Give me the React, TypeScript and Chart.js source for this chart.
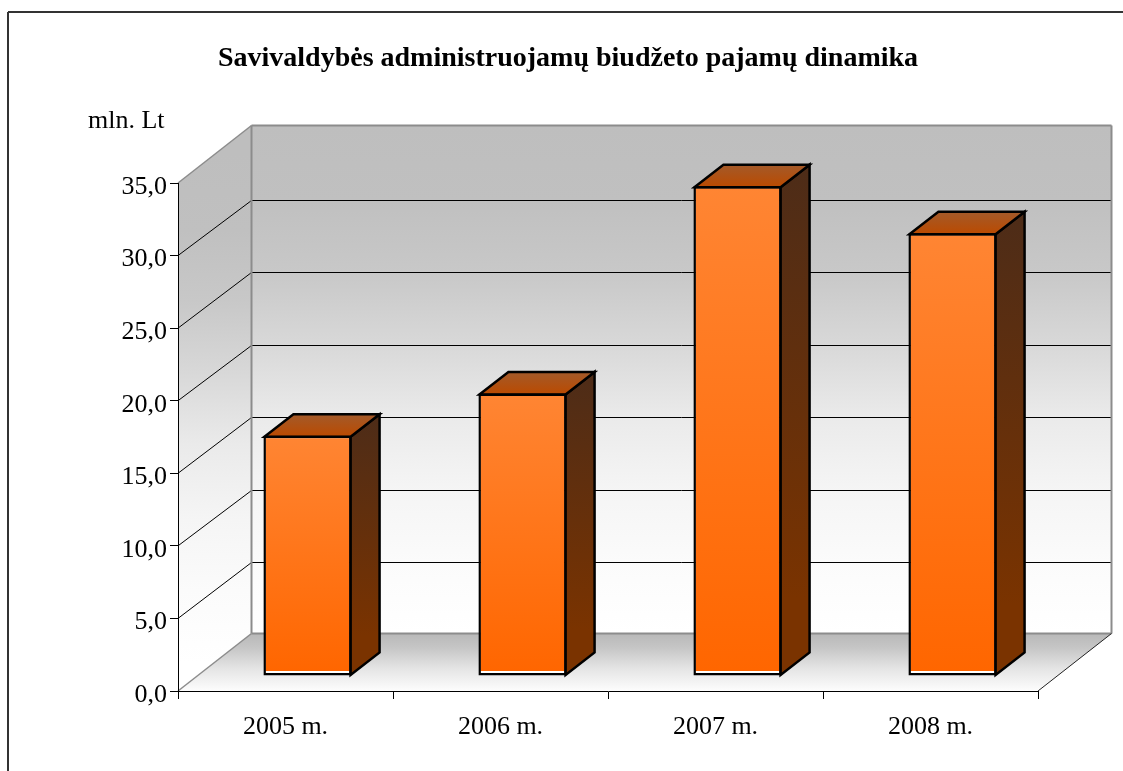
import React, { useEffect, useRef } from "react";
import { Chart, registerables } from "chart.js";

Chart.register(...registerables);

const categories = ["2005 m.", "2006 m.", "2007 m.", "2008 m."];
const revenue = [16.55, 19.47, 33.75, 30.5];
const titleText = "Savivaldybės administruojamų biudžeto pajamų dinamika";
const unitText = "mln. Lt";
const gridValues = [5, 10, 15, 20, 25, 30];

const FONT = '"Liberation Serif", "Times New Roman", serif';
const DEPTH_X = 73.5;
const DEPTH_Y = 57.5;
const GRID_DEPTH_Y = 55.5;
const BAR_SHIFT_X = 22;
const BAR_SHIFT_Y = 15;
const BAR_DEPTH_X = 29;
const BAR_DEPTH_Y = 22.5;
const BAR_LINE = 2.5;
const Y_LABEL_NUDGE = 4;

const poly = (ctx: CanvasRenderingContext2D, pts: number[][]) => {
  ctx.beginPath();
  pts.forEach(([x, y], i) => (i ? ctx.lineTo(x, y) : ctx.moveTo(x, y)));
  ctx.closePath();
};
const seg = (ctx: CanvasRenderingContext2D, x1: number, y1: number, x2: number, y2: number, color: string, w: number) => {
  ctx.strokeStyle = color;
  ctx.lineWidth = w;
  ctx.beginPath();
  ctx.moveTo(x1, y1);
  ctx.lineTo(x2, y2);
  ctx.stroke();
};

const scene = {
  id: "scene",
  afterUpdate(chart: any) {
    const s = chart.scales.y;
    if (s.__nudged) return;
    s.__nudged = true;
    const draw = s.drawLabels.bind(s);
    s.drawLabels = (area: any) => {
      s.ctx.save();
      s.ctx.translate(0, Y_LABEL_NUDGE);
      draw(area);
      s.ctx.restore();
    };
  },
  beforeDraw(chart: any) {
    const { ctx, chartArea: a, scales } = chart;
    const y = scales.y;
    const y0 = y.getPixelForValue(0);
    const yTop = y.getPixelForValue(35);
    const L = a.left;
    const R = a.right;
    const dx = DEPTH_X;
    const dy = DEPTH_Y;
    ctx.save();

    // page frame
    ctx.fillStyle = "#fff";
    ctx.fillRect(0, 0, chart.width, chart.height);
    seg(ctx, 8, 771, 8, 12, "#333", 2);
    seg(ctx, 8, 12, 1123, 12, "#333", 2);

    // walls
    const shades: [number, string][] = [
      [0, "#bebebe"],
      [0.15, "#c0c0c0"],
      [0.29, "#c8c8c8"],
      [0.43, "#d8d8d8"],
      [0.57, "#eaeaea"],
      [0.72, "#f5f5f5"],
      [0.86, "#fbfbfb"],
      [1, "#ffffff"],
    ];
    const wall = ctx.createLinearGradient(0, yTop - dy, 0, y0 - dy);
    shades.forEach(([s, c]) => wall.addColorStop(s, c));
    ctx.fillStyle = wall;
    ctx.fillRect(L + dx, yTop - dy, R - L, y0 - yTop);
    const side = ctx.createLinearGradient(0, yTop - dy / 2, 0, y0 - dy / 2);
    shades.forEach(([s, c]) => side.addColorStop(s, c));
    ctx.fillStyle = side;
    poly(ctx, [[L, yTop], [L + dx, yTop - dy], [L + dx, y0 - dy], [L, y0]]);
    ctx.fill();

    // floor
    const floor = ctx.createLinearGradient(0, y0 - dy, 0, y0);
    floor.addColorStop(0, "#b8b8b8");
    floor.addColorStop(0.25, "#c6c6c6");
    floor.addColorStop(0.6, "#e4e4e4");
    floor.addColorStop(1, "#fdfdfd");
    ctx.fillStyle = floor;
    poly(ctx, [[L, y0], [L + dx, y0 - dy], [R + dx, y0 - dy], [R, y0]]);
    ctx.fill();

    // grid lines through the scale
    gridValues.forEach((v) => {
      const py = y.getPixelForValue(v);
      const back = Math.floor(py - GRID_DEPTH_Y) + 0.5;
      seg(ctx, L + dx, back, R + dx, back, "#000", 1);
      seg(ctx, L, py, L + dx, back, "#000", 1);
    });

    // wall edges
    const edge = "#8c8c8c";
    seg(ctx, L, yTop, L + dx, yTop - dy, edge, 1.5);
    seg(ctx, L + dx, yTop - dy, R + dx, yTop - dy, edge, 2);
    seg(ctx, L + dx, yTop - dy, L + dx, y0 - dy, edge, 2);
    seg(ctx, R + dx, yTop - dy, R + dx, y0 - dy, edge, 2);
    seg(ctx, L + dx, y0 - dy, R + dx, y0 - dy, edge, 2);
    seg(ctx, L, y0, L + dx, y0 - dy, edge, 1.5);
    seg(ctx, R, y0, R + dx, y0 - dy, "#222", 1);

    // unit label
    ctx.fillStyle = "#000";
    ctx.font = `26px ${FONT}`;
    ctx.textAlign = "left";
    ctx.textBaseline = "middle";
    ctx.fillText(unitText, 88, 121);
    ctx.restore();
  },
  beforeDatasetsDraw(chart: any) {
    const { ctx } = chart;
    ctx.save();
    ctx.translate(BAR_SHIFT_X, -BAR_SHIFT_Y);
    const y0 = chart.scales.y.getPixelForValue(0);
    chart.getDatasetMeta(0).data.forEach((el: any) => {
      const w = el.width;
      const l = el.x - w / 2 + 1;
      const r = el.x + w / 2 - 1;
      const t = el.y + 1;
      const b = y0 - 1;
      const sx = BAR_DEPTH_X;
      const sy = BAR_DEPTH_Y;
      const sg = ctx.createLinearGradient(0, t - sy, 0, b);
      sg.addColorStop(0, "#4d2c18");
      sg.addColorStop(0.85, "#7a3300");
      sg.addColorStop(1, "#7a3300");
      ctx.fillStyle = sg;
      poly(ctx, [[r, t], [r + sx, t - sy], [r + sx, b - sy], [r, b]]);
      ctx.fill();
      ctx.strokeStyle = "#000";
      ctx.lineWidth = BAR_LINE;
      ctx.lineJoin = "miter";
      ctx.stroke();
      const tg = ctx.createLinearGradient(0, t - sy, 0, t);
      tg.addColorStop(0, "#a35a2a");
      tg.addColorStop(1, "#bb4a00");
      ctx.fillStyle = tg;
      poly(ctx, [[l, t], [l + sx, t - sy], [r + sx, t - sy], [r, t]]);
      ctx.fill();
      ctx.stroke();
    });
  },
  afterDatasetsDraw(chart: any) {
    chart.ctx.restore();
  },
};

const frontFill = (c: any) => {
  const { chart, raw } = c;
  const y = chart.scales.y;
  if (raw === undefined || !y) return "#ff7a22";
  const top = y.getPixelForValue(raw);
  const bottom = y.getPixelForValue(0);
  if (!Number.isFinite(top) || !Number.isFinite(bottom) || bottom <= top) return "#ff7a22";
  const g = chart.ctx.createLinearGradient(0, top, 0, bottom);
  const cut = 1 - 4.5 / (bottom - top);
  g.addColorStop(0, "#ff8533");
  g.addColorStop(cut, "#ff6600");
  g.addColorStop(cut, "#ffffff");
  g.addColorStop(1, "#ffffff");
  return g;
};

export default function App() {
  const ref = useRef<HTMLCanvasElement>(null);
  useEffect(() => {
    const chart = new Chart(ref.current as HTMLCanvasElement, {
      type: "bar",
      data: {
        labels: categories,
        datasets: [
          {
            data: revenue,
            backgroundColor: frontFill,
            borderColor: "#000",
            borderWidth: BAR_LINE,
            borderSkipped: false,
            barPercentage: 0.41,
            categoryPercentage: 1,
            clip: false,
          },
        ],
      },
      options: {
        responsive: false,
        animation: false,
        layout: { padding: { left: 98, right: 85, top: 0, bottom: 0 } },
        plugins: {
          legend: { display: false },
          tooltip: { enabled: false },
          title: {
            display: true,
            text: titleText,
            color: "#000",
            font: { family: FONT, size: 28, weight: "bold", lineHeight: 1.2 },
            padding: { top: 42, bottom: 107.4 },
          },
        },
        scales: {
          x: {
            afterFit: (s: any) => {
              s.height = 80;
            },
            border: { display: true, color: "#000", width: 1 },
            grid: { display: true, drawOnChartArea: false, drawTicks: true, tickLength: 8, color: "#000", offset: true },
            ticks: { color: "#000", font: { family: FONT, size: 26 }, padding: 13, maxRotation: 0 },
          },
          y: {
            min: 0,
            max: 35,
            afterFit: (s: any) => {
              s.width = 80;
            },
            border: { display: true, color: "#000", width: 1 },
            grid: { display: true, drawOnChartArea: false, drawTicks: true, tickLength: 8, color: "#000" },
            ticks: {
              stepSize: 5,
              color: "#000",
              padding: 3,
              font: { family: FONT, size: 26 },
              callback: (v: any) => Number(v).toFixed(1).replace(".", ","),
            },
          },
        },
      },
      plugins: [scene],
    } as any);
    return () => chart.destroy();
  }, []);
  return (
    <canvas
      ref={ref}
      width={1123}
      height={771}
      style={{ position: "absolute", left: 0, top: 0, width: 1123, height: 771, display: "block" }}
    />
  );
}
